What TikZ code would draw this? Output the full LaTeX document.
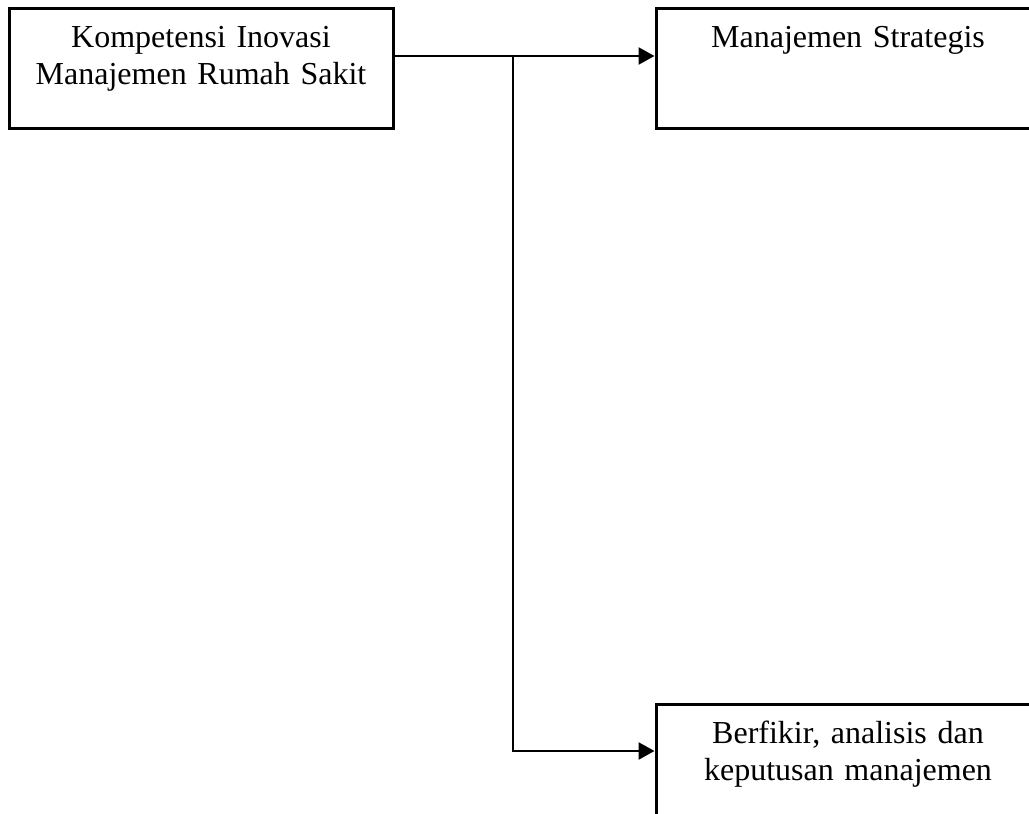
\documentclass[tikz,border=0pt]{standalone}
\usepackage{fontspec}
\setmainfont{Liberation Serif}
\usetikzlibrary{arrows.meta}
\begin{document}
\begin{tikzpicture}[x=1pt,y=-1pt,
  box/.style={draw=black, line width=3pt, minimum width=384pt, minimum height=120pt, inner sep=0pt},
  lbl/.style={text width=384pt, align=center, inner sep=0pt, anchor=base, font=\fontsize{32}{37}\selectfont},
  conn/.style={draw=black, line width=2.6pt},
  arr/.style={conn, -{Triangle[length=16pt,width=17pt]}}]
\useasboundingbox (0,0) rectangle (1029,814);
\clip (0,0) rectangle (1029,814);
% boxes
\node[box] (A) at (201,68) {};
\node[box] (B) at (848,68) {};
\node[box] (C) at (848,764) {};
% texts
\node[lbl] (At) at (201,47) {Kompetensi Inovasi\\Manajemen Rumah Sakit};
\node[lbl] (Bt) at (848,47) {Manajemen Strategis};
\node[lbl] (Ct) at (848,743) {Berfikir, analisis dan\\keputusan manajemen};
% connectors
\coordinate (j) at (513,56);
\coordinate (k) at (513,751);
\draw[arr] (A.east |- j) -- (B.west |- j);
\draw[conn] (j) -- (k);
\draw[arr] ([xshift=-1.3pt]k) -- (C.west |- k);
\end{tikzpicture}
\end{document}
